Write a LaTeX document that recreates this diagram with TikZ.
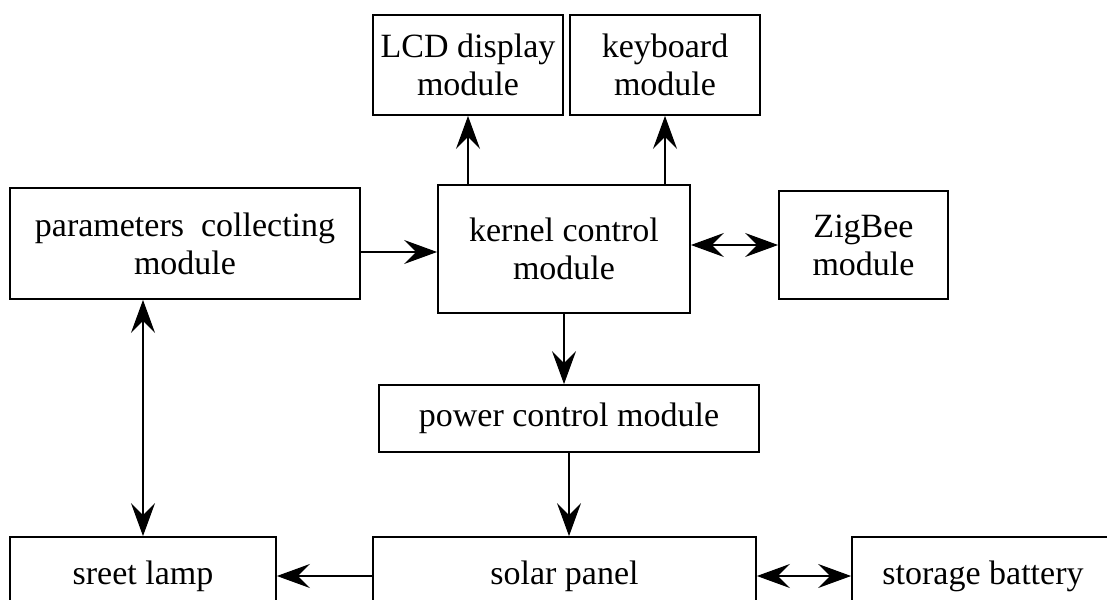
\documentclass[tikz,border=0pt]{standalone}
\usepackage{fontspec}
\setmainfont{Liberation Serif}
\usetikzlibrary{arrows.meta,calc}
\begin{document}
\begin{tikzpicture}[x=1pt,y=-1pt,
  box/.style={draw, line width=1.8pt, inner sep=0pt, align=center, font=\fontsize{34}{38}\selectfont},
  tip/.tip={Stealth[length=33pt,width=24pt,inset=12pt]},
  arr/.style={line width=1.8pt, -tip},
  darr/.style={line width=1.8pt, tip-tip}]
\useasboundingbox (0,0) rectangle (1107,599);
\clip (0,0) rectangle (1107,599);
\node[box, minimum width=190pt, minimum height=100pt] (lcd) at (468,65) {LCD display\\module};
\node[box, minimum width=190pt, minimum height=100pt] (kb) at (665,65) {keyboard\\module};
\node[box, minimum width=252pt, minimum height=128pt] (kernel) at (564,249) {kernel control\\module};
\node[box, minimum width=350pt, minimum height=111pt] (params) at (185,243.5) {parameters\ \ collecting\\module};
\node[box, minimum width=169pt, minimum height=108pt] (zig) at (863.5,245) {ZigBee\\module};
\node[box, minimum width=380pt, minimum height=67pt] (power) at (569,418.5) {power control module};
\node[box, minimum width=266pt, minimum height=78pt] (lamp) at (143,576) {sreet lamp};
\node[box, minimum width=383pt, minimum height=78pt] (solar) at (564.5,576) {solar panel};
\node[box, minimum width=262pt, minimum height=78pt] (storage) at (983,576) {storage battery};
\draw[arr] (lcd.south |- kernel.north) -- (lcd.south);
\draw[arr] (kb.south |- kernel.north) -- (kb.south);
\coordinate (p1) at ($(params.east)+(0,8.5)$);
\draw[arr] (p1) -- (p1 -| kernel.west);
\draw[darr] (kernel.east |- zig.west) -- (zig.west);
\draw[arr] (kernel.south) -- (kernel.south |- power.north);
\draw[arr] (power.south) -- (power.south |- solar.north);
\draw[darr] (params.south -| lamp.north) -- (lamp.north);
\draw[arr] (solar.west) -- (lamp.east);
\draw[darr] (solar.east) -- (storage.west);
\end{tikzpicture}
\end{document}
